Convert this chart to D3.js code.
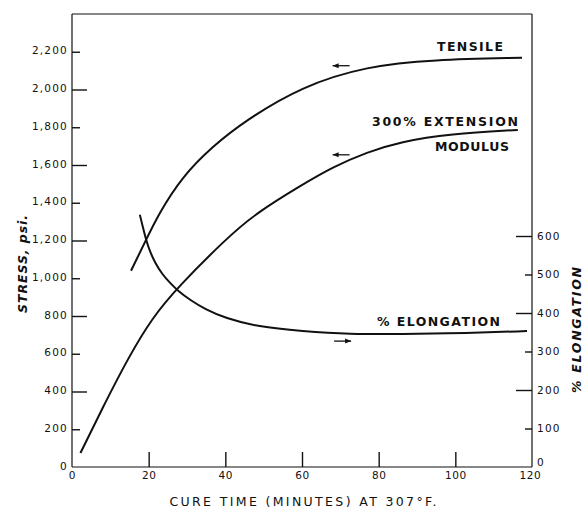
<!DOCTYPE html>
<html>
<head>
<meta charset="utf-8">
<script src="https://cdn.jsdelivr.net/npm/d3@7/dist/d3.min.js"></script>
<style>
  body { margin: 0; background: #fff; }
  svg { display: block; }
  .axis path { stroke: #111; stroke-width: 1.2; }
  .axis line { stroke: #111; stroke-width: 1.4; }
  .axis text { font-family: "DejaVu Sans", sans-serif; font-size: 10.5px; letter-spacing: 1.2px; fill: #111; }
  .curve { fill: none; stroke: #111; stroke-width: 2; }
  .lbl { font-family: "DejaVu Sans", sans-serif; font-weight: bold; font-size: 12.5px; fill: #111; }
</style>
</head>
<body>
<div id="chart"></div>
<script>
/* ===== data ===== */

const tensileTime   = [15.4, 19.0, 22.6, 28.7, 36.5, 45.1, 60, 77, 94, 117.4];
const tensileStress = [1040, 1190, 1341, 1537, 1696, 1834, 2018, 2124, 2158, 2168];

const modulusTime   = [2.2, 8.6, 14.8, 20.9, 27.7, 39.9, 47.7, 60, 68.1, 77, 85.6, 98.6, 116.3];
const modulusStress = [74, 339, 583, 790, 955, 1203, 1341, 1495, 1590, 1668, 1723, 1765, 1786];

const elongTime = [17.7, 18.5, 19.3, 20.4, 21.7, 23.5, 25.6, 27.7, 30.8, 34.7, 39.9, 48.5, 60, 72.5, 85.6, 103, 118.7];
const elongPct  = [655, 623, 590, 558, 530, 501, 478, 457, 434, 410, 387, 364, 353, 345, 345, 348, 353];

const timeTicks   = [0, 20, 40, 60, 80, 100, 120];
const stressTicks = [0, 200, 400, 600, 800, 1000, 1200, 1400, 1600, 1800, 2000, 2200];
const elongTicks  = [0, 100, 200, 300, 400, 500, 600];

// arrows: [time, value, direction]
const stressArrows = [[70.2, 2126, -1], [70.2, 1654, -1]];
const elongArrows  = [[70.6, 327, 1]];

/* ===== layout ===== */

const W = 585, H = 509;
const pl = 72, pr = 532, pt = 14, pb = 467;

const svg = d3.select("#chart").append("svg")
  .attr("width", W).attr("height", H);

const x  = d3.scaleLinear().domain([0, 120]).range([pl, pr]);
const yL = d3.scaleLinear().domain([0, 2400]).range([pb, pt]);
const yR = d3.scaleLinear().domain([0, 600]).range([pb, 236]);

/* ===== axes ===== */

const fmt = d3.format(",");

const gl = svg.append("g").attr("class", "axis")
  .attr("transform", `translate(${pl},0)`)
  .call(d3.axisLeft(yL).tickValues(stressTicks).tickSize(0).tickPadding(4).tickFormat(fmt));
gl.select(".domain").attr("d", `M0,${pb}V${pt}`);
gl.selectAll(".tick line").attr("x2", d => d === 0 ? 0 : (d % 400 === 0 ? 15 : 8));
gl.selectAll(".tick text").attr("dy", "0.2em");

const gr = svg.append("g").attr("class", "axis")
  .attr("transform", `translate(${pr},0)`)
  .call(d3.axisRight(yR).tickValues(elongTicks).tickSize(0).tickPadding(5));
gr.select(".domain").attr("d", `M0,${pb}V${pt}`);
gr.selectAll(".tick line").attr("x2", d => d === 0 ? 0 : (d % 200 === 0 ? -16 : -7));
gr.selectAll(".tick text").filter(d => d === 0).attr("dy", "-0.1em");

const gb = svg.append("g").attr("class", "axis")
  .attr("transform", `translate(0,${pb})`)
  .call(d3.axisBottom(x).tickValues(timeTicks).tickSize(0).tickPadding(5));
gb.select(".domain").attr("d", `M${pl},0H${pr}`);
gb.selectAll(".tick line").attr("y2", d => (d === 0 || d === 120) ? 0 : -15);
gb.selectAll(".tick text").style("letter-spacing", "0.6px")
  .filter(d => d === 120).attr("dx", "-0.2em");

// top frame
svg.append("line")
  .attr("x1", pl).attr("x2", pr).attr("y1", pt).attr("y2", pt)
  .attr("stroke", "#111").attr("stroke-width", 1.2);

/* ===== curves ===== */

const lineL = d3.line().x(d => x(d[0])).y(d => yL(d[1])).curve(d3.curveBasis);
const lineR = d3.line().x(d => x(d[0])).y(d => yR(d[1])).curve(d3.curveBasis);

svg.append("path").attr("class", "curve")
  .attr("d", lineL(d3.zip(tensileTime, tensileStress)));
svg.append("path").attr("class", "curve")
  .attr("d", lineL(d3.zip(modulusTime, modulusStress)));
svg.append("path").attr("class", "curve")
  .attr("d", lineR(d3.zip(elongTime, elongPct)));

/* ===== arrows ===== */

function arrow(px, py, dir) {
  const len = 17;
  const tip = dir < 0 ? px - len / 2 : px + len / 2;
  const tail = dir < 0 ? px + len / 2 : px - len / 2;
  svg.append("line")
    .attr("x1", tail).attr("x2", tip).attr("y1", py).attr("y2", py)
    .attr("stroke", "#111").attr("stroke-width", 1.3);
  svg.append("path")
    .attr("d", `M${tip},${py}L${tip - dir * 6},${py - 2.5}L${tip - dir * 6},${py + 2.5}Z`)
    .attr("fill", "#111");
}
stressArrows.forEach(a => arrow(x(a[0]), yL(a[1]), a[2]));
elongArrows.forEach(a => arrow(x(a[0]), yR(a[1]), a[2]));

/* ===== labels ===== */

function label(txt, cx, by, len) {
  svg.append("text").attr("class", "lbl")
    .attr("x", cx).attr("y", by)
    .attr("text-anchor", "middle")
    .attr("textLength", len).attr("lengthAdjust", "spacing")
    .text(txt);
}
label("TENSILE", 470, 51, 66);
label("300% EXTENSION", 445, 126, 146);
label("MODULUS", 472, 151, 74);
label("% ELONGATION", 438.5, 326, 123);

svg.append("text")
  .attr("x", 303).attr("y", 506)
  .attr("text-anchor", "middle")
  .attr("textLength", 267).attr("lengthAdjust", "spacing")
  .style("font-family", "DejaVu Sans, sans-serif")
  .style("font-size", "12.5px")
  .attr("fill", "#111")
  .text("CURE  TIME  (MINUTES)  AT  307°F.");

svg.append("text")
  .attr("transform", "translate(27,264) rotate(-90)")
  .attr("text-anchor", "middle")
  .attr("textLength", 98).attr("lengthAdjust", "spacing")
  .style("font-family", "DejaVu Sans, sans-serif")
  .style("font-size", "12.5px")
  .style("font-style", "italic")
  .style("font-weight", "bold")
  .attr("fill", "#111")
  .text("STRESS, psi.");

svg.append("text")
  .attr("transform", "translate(581,330) rotate(-90)")
  .attr("text-anchor", "middle")
  .attr("textLength", 126).attr("lengthAdjust", "spacing")
  .style("font-family", "DejaVu Sans, sans-serif")
  .style("font-size", "12.5px")
  .style("font-style", "italic")
  .style("font-weight", "bold")
  .attr("fill", "#111")
  .text("% ELONGATION");
</script>
</body>
</html>
